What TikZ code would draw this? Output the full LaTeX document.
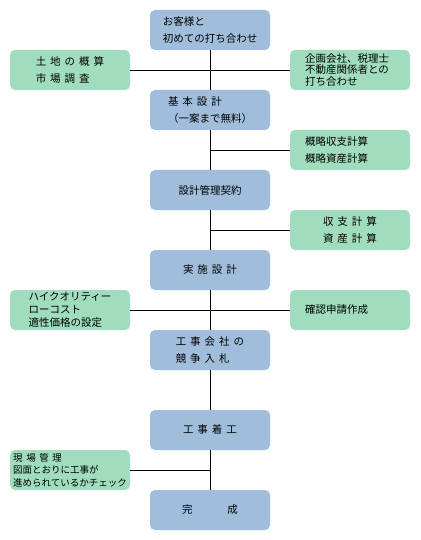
\documentclass[tikz,border=0pt]{standalone}
\usepackage{fontspec}
\setmainfont[WordSpace=1.7]{Noto Sans CJK JP}
\definecolor{stageblue}{HTML}{A0BEDC}
\definecolor{notegreen}{HTML}{A0DCBE}
\tikzset{
  stage/.style = {
    fill=stageblue, rounded corners=5pt,
    minimum width=120pt, minimum height=40pt,
    align=left, inner sep=2pt,
    font=\fontsize{10.5}{17}\selectfont
  },
  note/.style = {stage, fill=notegreen},
  flushnote/.style = {note, text width=90pt, inner xsep=15pt},
  tight/.style = {font=\fontsize{10.5}{11.5}\selectfont},
  link/.style = {line width=0.8pt}
}
\begin{document}
\begin{tikzpicture}[x=1pt,y=-1pt]
  \useasboundingbox (0,0) rectangle (420,540);
  % main steps
  \node[stage] (meet)     at (210,30)  {お客様と\\初めての打ち合わせ};
  \node[stage] (basic)    at (210,110) {基 本 設 計\\（一案まで無料）};
  \node[stage] (contract) at (210,190) {設計管理契約};
  \node[stage] (detail)   at (210,270) {実 施 設 計};
  \node[stage] (bid)      at (210,350) {工 事 会 社 の\\競 争 入 札};
  \node[stage] (build)    at (210,430) {工 事 着 工};
  \node[stage] (done)     at (210,510) {完\hspace{3.3em}成};
  % side notes
  \node[note]            (land)    at (70,70)   {土 地 の 概 算\\市 場 調 査};
  \node[flushnote,tight] (partner) at (350,70)  {企画会社、税理士\\不動産関係者との\\打ち合わせ};
  \node[flushnote]       (rough)   at (350,150) {概略収支計算\\概略資産計算};
  \node[note]            (budget)  at (350,230) {収 支 計 算\\資 産 計 算};
  \node[note,font=\fontsize{10.5}{13}\selectfont] (grade) at (70,310) {ハイクオリティー\\ローコスト\\適性価格の設定};
  \node[flushnote]       (permit)  at (350,310) {確認申請作成};
  \node[note,font=\fontsize{9.5}{12.5}\selectfont] (site) at (70,470) {現 場 管 理\\図面とおりに工事が\\進められているかチェック};
  % connectors
  \draw[link] (meet) -- (basic);
  \draw[link] (basic) -- (contract);
  \draw[link] (contract) -- (detail);
  \draw[link] (detail) -- (bid);
  \draw[link] (bid) -- (build);
  \draw[link] (build) -- (done);
  \draw[link] (land) -- (partner);
  \draw[link] (rough.west) -- (rough.west -| basic);
  \draw[link] (budget.west) -- (budget.west -| contract);
  \draw[link] (grade) -- (permit);
  \draw[link] (site.east) -- (site.east -| build);
\end{tikzpicture}
\end{document}
